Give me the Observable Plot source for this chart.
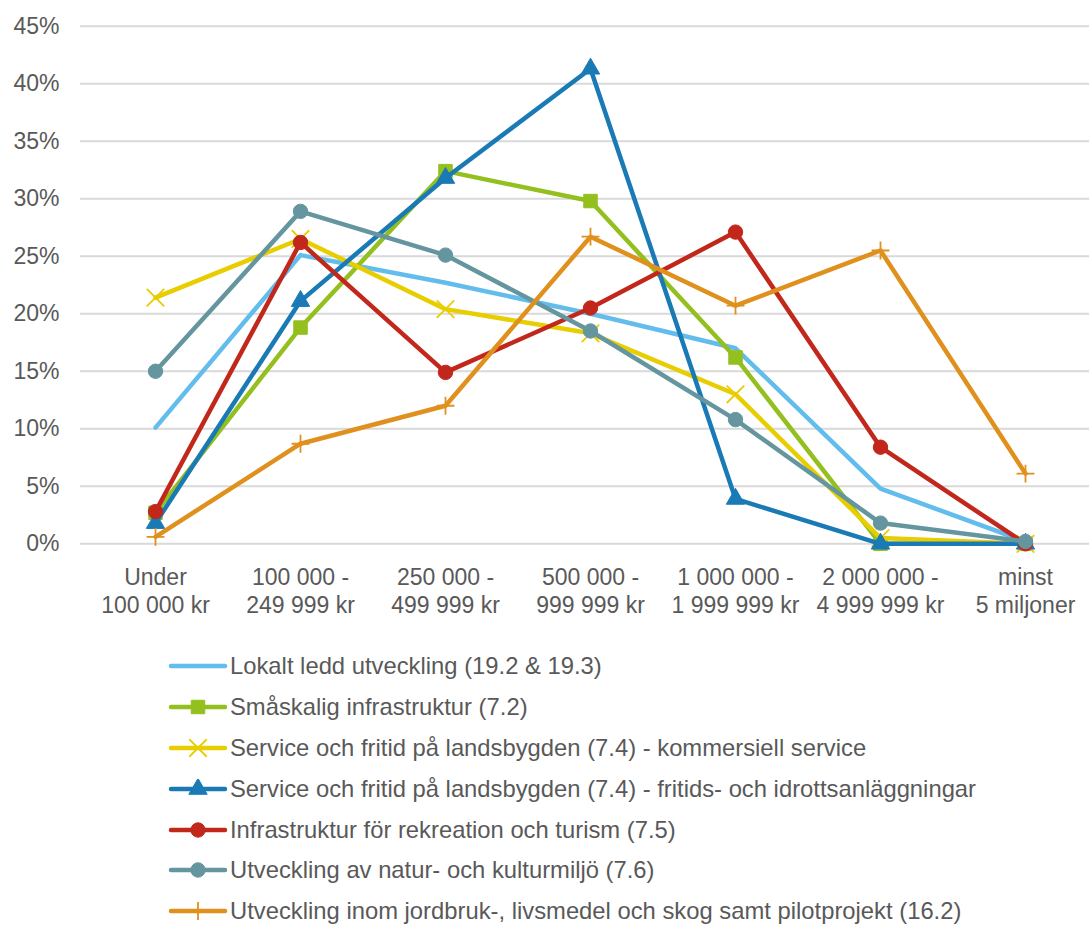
<!DOCTYPE html>
<html>
<head>
<meta charset="utf-8">
<script src="https://cdn.jsdelivr.net/npm/d3@7"></script>
<script src="https://cdn.jsdelivr.net/npm/@observablehq/plot@0.6"></script>
<style>
  body { margin: 0; background: #fff; font-family: "Liberation Sans", Arial, sans-serif; }
  #wrap { position: relative; width: 1089px; height: 925px; overflow: hidden; }
  #legend { position: absolute; left: 167px; top: 646px; color: #595959; font-size: 23.8px; }
  .row { height: 40.8px; display: flex; align-items: center; white-space: nowrap; }
  .row svg { flex: none; margin-right: 1px; }
</style>
</head>
<body>
<div id="wrap"><div id="chart"></div><div id="legend"></div></div>
<script>
const categories = [
  "Under\n100 000 kr",
  "100 000 -\n249 999 kr",
  "250 000 -\n499 999 kr",
  "500 000 -\n999 999 kr",
  "1 000 000 -\n1 999 999 kr",
  "2 000 000 -\n4 999 999 kr",
  "minst\n5 miljoner"
];
const yTicks = [0, 5, 10, 15, 20, 25, 30, 35, 40, 45];

const seriesNames = [
  "Lokalt ledd utveckling (19.2 & 19.3)",
  "Småskalig infrastruktur (7.2)",
  "Service och fritid på landsbygden (7.4) - kommersiell service",
  "Service och fritid på landsbygden (7.4) - fritids- och idrottsanläggningar",
  "Infrastruktur för rekreation och turism (7.5)",
  "Utveckling av natur- och kulturmiljö (7.6)",
  "Utveckling inom jordbruk-, livsmedel och skog samt pilotprojekt (16.2)"
];
const lokalt   = [10.1, 25.1, 22.7, 20.0, 17.0, 4.8, 0.2];
const smaskalig = [2.7, 18.8, 32.4, 29.8, 16.2, 0.0, 0.0];
const kommersiell = [21.4, 26.5, 20.4, 18.3, 13.0, 0.5, 0.0];
const fritids  = [1.8, 21.1, 31.8, 41.3, 3.9, 0.0, 0.0];
const rekreation = [2.8, 26.2, 14.9, 20.5, 27.1, 8.4, 0.0];
const naturmiljo = [15.0, 28.9, 25.1, 18.5, 10.8, 1.8, 0.2];
const jordbruk = [0.6, 8.7, 12.0, 26.7, 20.7, 25.5, 6.1];

const seriesValues = [lokalt, smaskalig, kommersiell, fritids, rekreation, naturmiljo, jordbruk];
const colors = ["#62bdec", "#93c01f", "#e8cd00", "#1a7ab5", "#c2271b", "#65969f", "#e0901c"];
const symbols = [null, "square", "times", "triangle", "circle", "circle", "plus"];
const symbolR = {square: 7.6, times: 8.0, triangle: 6.8, circle: 7.2, plus: 5.8};
const strokeSym = {times: true, plus: true};

const data = [];
seriesValues.forEach((vals, i) => vals.forEach((v, j) => data.push({series: i, cat: categories[j], value: v})));

const marks = [
  Plot.ruleY(yTicks, {stroke: "#d9d9d9", strokeWidth: 2}),
  Plot.axisY({ticks: yTicks, tickFormat: d => d + "%", tickSize: 0, tickPadding: 21, fontSize: 23, label: null}),
  Plot.axisX({tickSize: 0, tickPadding: 21, fontSize: 23, lineHeight: 1.22, label: null})
];
seriesValues.forEach((vals, i) => {
  const d = data.filter(r => r.series === i);
  marks.push(Plot.line(d, {x: "cat", y: "value", stroke: colors[i], strokeWidth: 4.5, strokeLinejoin: "round", strokeLinecap: "round"}));
  const s = symbols[i];
  if (s) {
    if (strokeSym[s]) {
      marks.push(Plot.dot(d, {x: "cat", y: "value", symbol: s, r: symbolR[s], stroke: colors[i], strokeWidth: 1.8, fill: "none"}));
    } else {
      marks.push(Plot.dot(d, {x: "cat", y: "value", symbol: s, r: symbolR[s], fill: colors[i], stroke: colors[i], strokeWidth: 1}));
    }
  }
});

const chart = Plot.plot({
  width: 1089,
  height: 625,
  marginLeft: 80,
  marginRight: 0,
  marginTop: 25.7,
  marginBottom: 81.7,
  style: {fontFamily: "'Liberation Sans', Arial, sans-serif", fontSize: "23px", color: "#595959", background: "transparent", overflow: "visible"},
  x: {type: "point", domain: categories, range: [80, 1100], padding: 0.5},
  y: {domain: [0, 45]},
  marks
});
document.getElementById("chart").appendChild(chart);

// legend
const legend = d3.select("#legend");
seriesNames.forEach((name, i) => {
  const row = legend.append("div").attr("class", "row");
  const svg = row.append("svg").attr("width", 62).attr("height", 20);
  svg.append("line").attr("x1", 4).attr("x2", 58).attr("y1", 10).attr("y2", 10)
    .attr("stroke", colors[i]).attr("stroke-width", 4.5).attr("stroke-linecap", "round");
  const s = symbols[i];
  if (s) {
    const map = {square: d3.symbolSquare, times: d3.symbolTimes, triangle: d3.symbolTriangle, circle: d3.symbolCircle, plus: d3.symbolPlus};
    const r = symbolR[s];
    const p = svg.append("path").attr("transform", "translate(31,10)")
      .attr("d", d3.symbol(map[s], r * r * Math.PI)());
    if (strokeSym[s]) p.attr("fill", "none").attr("stroke", colors[i]).attr("stroke-width", 1.8);
    else p.attr("fill", colors[i]).attr("stroke", colors[i]).attr("stroke-width", 1);
  }
  row.append("span").text(name);
});
</script>
</body>
</html>
